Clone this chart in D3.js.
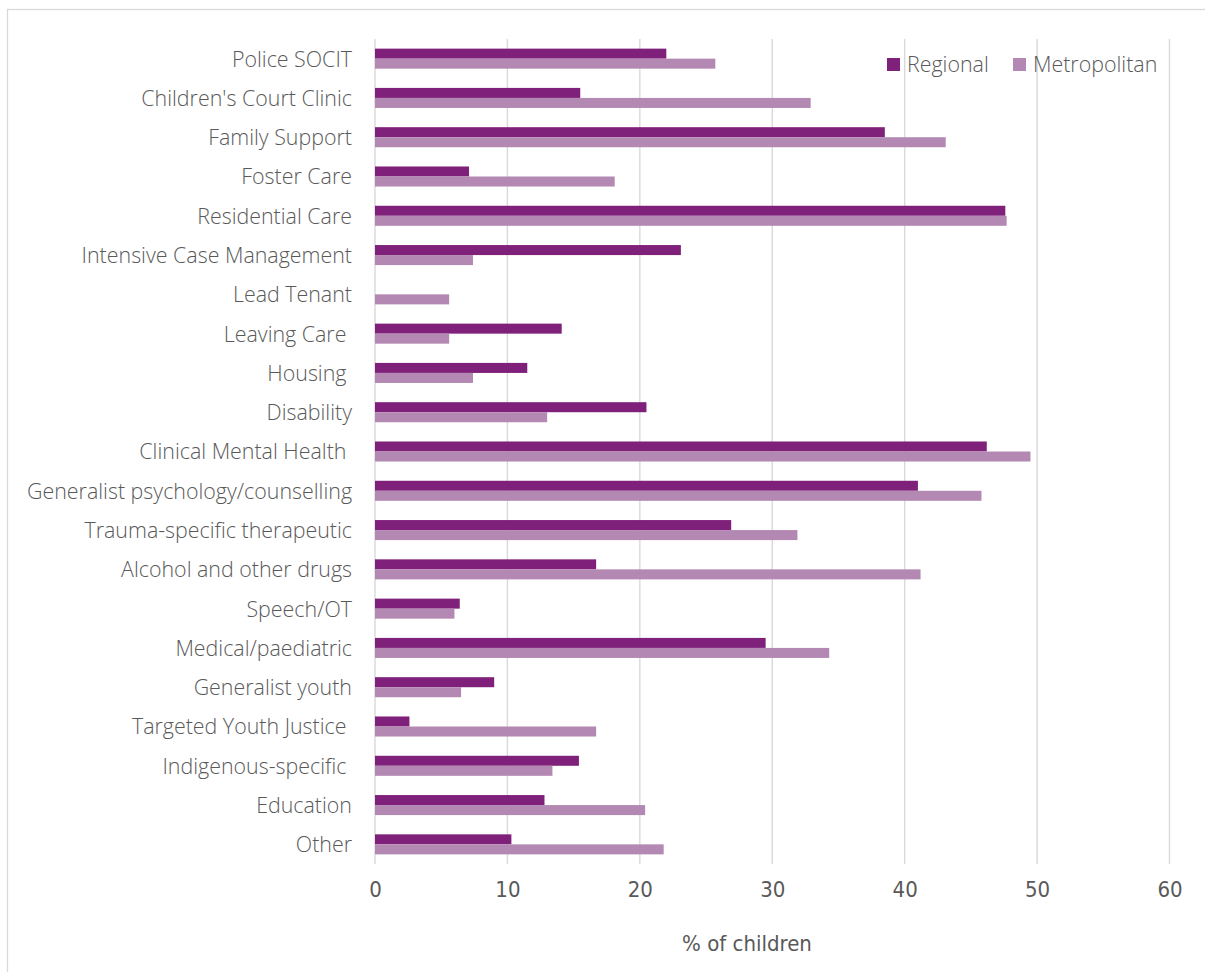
<!DOCTYPE html>
<html>
<head>
<meta charset="utf-8">
<script src="https://cdn.jsdelivr.net/npm/d3@7"></script>
<style>
  body { margin: 0; background: #fff; }
  text { white-space: pre; }
</style>
</head>
<body>
<div id="viz_container"></div>
<script>
// Data /////////////////////////////////////////////
const categories = [
  "Police SOCIT", "Children's Court Clinic", "Family Support", "Foster Care",
  "Residential Care", "Intensive Case Management", "Lead Tenant", "Leaving Care ",
  "Housing ", "Disability", "Clinical Mental Health ", "Generalist psychology/counselling",
  "Trauma-specific therapeutic", "Alcohol and other drugs", "Speech/OT", "Medical/paediatric",
  "Generalist youth", "Targeted Youth Justice ", "Indigenous-specific ", "Education", "Other"
];
const seriesNames = ["Regional", "Metropolitan"];
const regional = [22.0, 15.5, 38.5, 7.1, 47.6, 23.1, 0, 14.1, 11.5, 20.5, 46.2, 41.0, 26.9, 16.7, 6.4, 29.5, 9.0, 2.6, 15.4, 12.8, 10.3];
const metropolitan = [25.7, 32.9, 43.1, 18.1, 47.7, 7.4, 5.6, 5.6, 7.4, 13.0, 49.5, 45.8, 31.9, 41.2, 6.0, 34.3, 6.5, 16.7, 13.4, 20.4, 21.8];
const xTicks = [0, 10, 20, 30, 40, 50, 60];

const rows = categories.map((c, i) => ({ cat: c, Regional: regional[i], Metropolitan: metropolitan[i] }));

const W = 1205, H = 972;
const plot = { left: 375, right: 1169.5, top: 39, bottom: 864 };
const color = d3.scaleOrdinal().domain(seriesNames).range(["#7f207b", "#b388b2"]);
const labelFont = "'Open Sans', 'Noto Sans', sans-serif";
const numFont = "'Liberation Sans Narrow', 'DejaVu Sans Condensed', sans-serif";

const svg = d3.select("#viz_container")
  .append("svg")
    .attr("width", W)
    .attr("height", H);

// chart area border
svg.append("rect")
  .attr("x", 7.5).attr("y", 9.5)
  .attr("width", 1210).attr("height", 1000)
  .attr("fill", "#fff")
  .attr("stroke", "#d9d9d9")
  .attr("stroke-width", 1.3);

// scales
const x = d3.scaleLinear().domain([0, 60]).range([plot.left, plot.right]);
const y = d3.scaleBand()
  .domain(categories)
  .range([plot.top, plot.bottom])
  .paddingInner(0.49)
  .paddingOuter(0.245);
const ySub = d3.scaleBand().domain(seriesNames).range([0, y.bandwidth()]);

// gridlines
svg.append("g")
  .selectAll("line")
  .data(xTicks)
  .join("line")
    .attr("x1", d => x(d)).attr("x2", d => x(d))
    .attr("y1", plot.top).attr("y2", plot.bottom)
    .attr("stroke", "#d9d9d9")
    .attr("stroke-width", 1.4);

// x axis tick labels
const xAxis = svg.append("g")
  .attr("transform", `translate(0,${plot.bottom})`)
  .call(d3.axisBottom(x).tickValues(xTicks).tickSize(0).tickPadding(17));
xAxis.select(".domain").remove();
xAxis.selectAll("text")
  .attr("fill", "#595959")
  .style("font-family", numFont)
  .style("font-size", "22px");

// y axis category labels
const yAxis = svg.append("g")
  .attr("transform", `translate(${plot.left},0)`)
  .call(d3.axisLeft(y).tickSize(0).tickPadding(23));
yAxis.select(".domain").remove();
yAxis.selectAll("text")
  .attr("fill", "#595959")
  .attr("dy", "0.37em")
  .style("font-family", labelFont)
  .style("font-weight", 300)
  .style("font-size", "21.4px");

// bars
svg.append("g")
  .selectAll("g")
  .data(rows)
  .join("g")
    .attr("transform", d => `translate(0,${y(d.cat)})`)
  .selectAll("rect")
  .data(d => seriesNames.map(k => ({ key: k, value: d[k] })))
  .join("rect")
    .attr("x", x(0))
    .attr("y", d => ySub(d.key))
    .attr("width", d => x(d.value) - x(0))
    .attr("height", ySub.bandwidth())
    .attr("fill", d => color(d.key));

// axis title
svg.append("text")
  .attr("x", 747)
  .attr("y", 943)
  .attr("dy", "0.35em")
  .attr("text-anchor", "middle")
  .attr("fill", "#595959")
  .style("font-family", numFont)
  .style("font-size", "22px")
  .text("% of children");

// legend
const legendX = [887, 1013];
const legend = svg.append("g")
  .selectAll("g")
  .data(seriesNames)
  .join("g")
    .attr("transform", (d, i) => `translate(${legendX[i]},58)`);
legend.append("rect")
  .attr("width", 13).attr("height", 13)
  .attr("fill", d => color(d));
legend.append("text")
  .attr("x", 20).attr("y", 6.5)
  .attr("dy", "0.37em")
  .attr("fill", "#595959")
  .style("font-family", labelFont)
  .style("font-weight", 300)
  .style("font-size", "21.4px")
  .text(d => d);
</script>
</body>
</html>
